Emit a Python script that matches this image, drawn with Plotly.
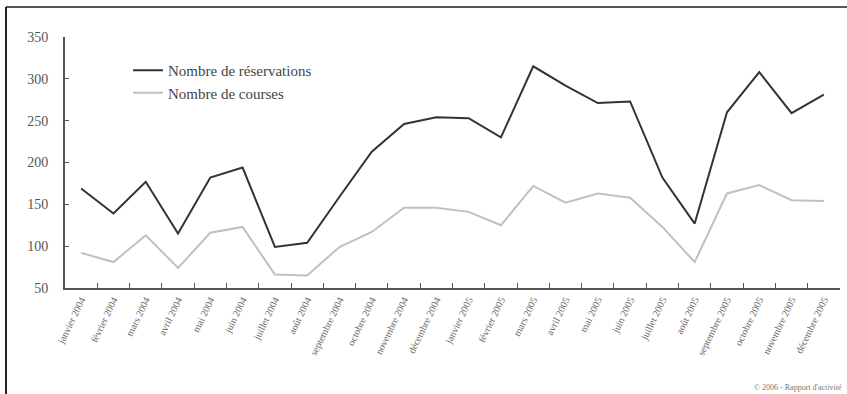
import plotly.graph_objects as go

months = ["janvier 2004", "février 2004", "mars 2004", "avril 2004", "mai 2004", "juin 2004",
          "juillet 2004", "août 2004", "septembre 2004", "octobre 2004", "novembre 2004", "décembre 2004",
          "janvier 2005", "février 2005", "mars 2005", "avril 2005", "mai 2005", "juin 2005",
          "juillet 2005", "août 2005", "septembre 2005", "octobre 2005", "novembre 2005", "décembre 2005"]
reservations = [169, 139, 177, 115, 182, 194, 99, 104, 159, 213, 246, 254, 253, 230, 315, 292,
                271, 273, 182, 127, 260, 308, 259, 281]
courses = [92, 81, 113, 74, 116, 123, 66, 65, 99, 117, 146, 146, 141, 125, 172, 152,
           163, 158, 123, 81, 163, 173, 155, 154]
y_ticks = [50, 100, 150, 200, 250, 300, 350]

SERIF = "Liberation Serif"

fig = go.Figure()
fig.add_trace(go.Scatter(x=months, y=reservations, mode="lines", name="Nombre de réservations",
                         line=dict(color="#333333", width=2)))
fig.add_trace(go.Scatter(x=months, y=courses, mode="lines", name="Nombre de courses",
                         line=dict(color="#c0c0c0", width=2)))

L, R, T, B = 65, 7, 37, 106
W, H = 847, 394
pw, ph = W - L - R, H - T - B

def px(x):
    return (x - L) / pw

def py(y):
    return (H - B - y) / ph

fig.update_layout(
    width=W, height=H,
    margin=dict(l=L, r=R, t=T, b=B, autoexpand=False),
    paper_bgcolor="white", plot_bgcolor="white",
    font=dict(family=SERIF, color="#555555"),
    showlegend=True,
    legend=dict(x=px(128), y=py(54), xanchor="left", yanchor="top",
                bgcolor="rgba(0,0,0,0)", font=dict(family=SERIF, size=15, color="#444444"),
                tracegroupgap=0, itemwidth=30),
    xaxis=dict(type="category", showgrid=False, showline=True, linecolor="#555555", linewidth=2,
               ticks="inside", tickson="boundaries", ticklen=5, tickcolor="#555555",
               tickangle=-64, tickfont=dict(family=SERIF, size=10, color="#666666"),
               range=[-0.5, len(months) - 0.5], automargin=False),
    yaxis=dict(range=[50, 350], tickvals=y_ticks, showgrid=False, showline=True,
               linecolor="#555555", linewidth=2, ticks="inside", ticklen=4, tickcolor="#555555",
               tickfont=dict(family=SERIF, size=14, color="#555555"), zeroline=False,
               ticklabelstandoff=12, automargin=False),
    shapes=[
        dict(type="line", xref="paper", yref="paper", x0=px(6), x1=px(847), y0=py(7), y1=py(7),
             line=dict(color="#555555", width=2)),
        dict(type="line", xref="paper", yref="paper", x0=px(6), x1=px(6), y0=py(7), y1=py(394),
             line=dict(color="#222222", width=2)),
    ],
    annotations=[
        dict(text="© 2006 - Rapport d'activité", xref="paper", yref="paper", x=px(844), y=py(387),
             xanchor="right", yanchor="middle", showarrow=False,
             font=dict(family=SERIF, size=8, color="#777777")),
    ],
)

fig.write_html("out.html", config={"displayModeBar": False},
               post_script="document.body.style.margin='0';document.body.style.padding='0';")
